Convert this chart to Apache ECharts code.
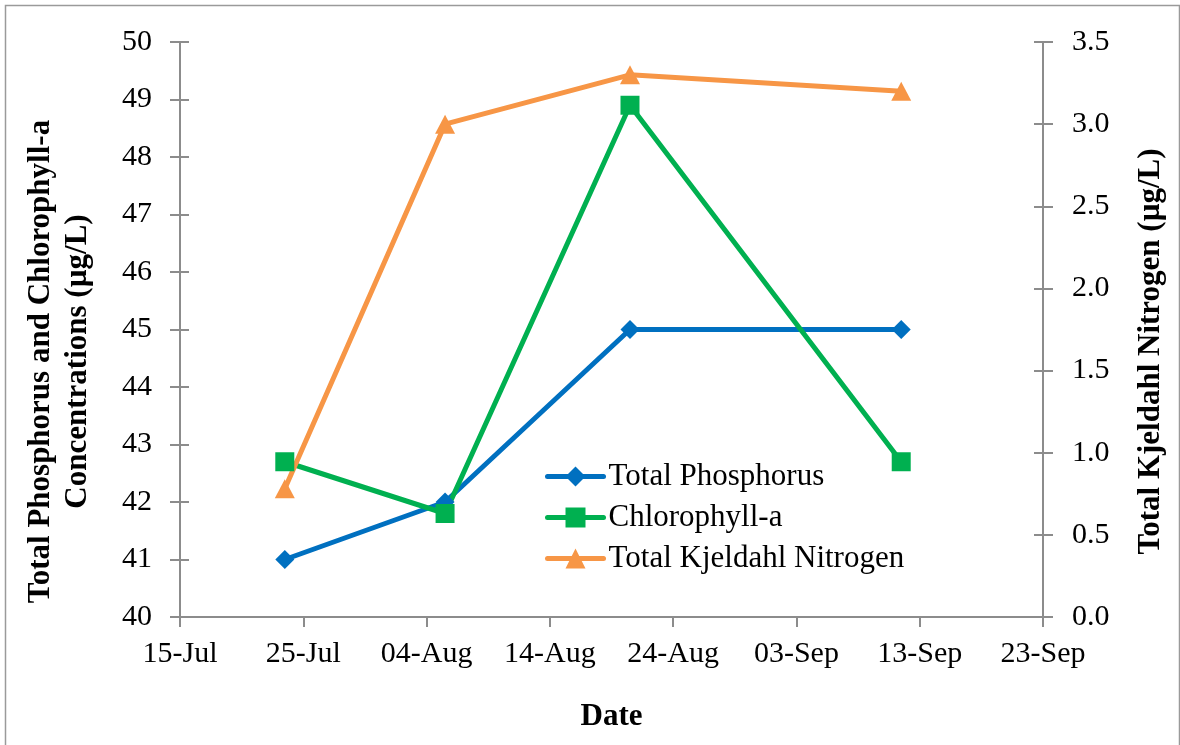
<!DOCTYPE html>
<html>
<head>
<meta charset="utf-8">
<script src="https://cdn.jsdelivr.net/npm/echarts@6/dist/echarts.min.js"></script>
<style>
html,body{margin:0;padding:0;background:#fff;}
#chart{width:1180px;height:745px;}
</style>
</head>
<body>
<div id="chart"></div>
<script>
// ---- data ----
const sampleDates = ['2012-07-23', '2012-08-05', '2012-08-20', '2012-09-11'];
const totalPhosphorus = [41, 42, 45, 45];
const chlorophyllA = [42.7, 41.8, 48.9, 42.7];
const totalKjeldahlNitrogen = [0.78, 3.0, 3.3, 3.2];
const seriesNames = ['Total Phosphorus', 'Chlorophyll-a', 'Total Kjeldahl Nitrogen'];
const xAxisStart = '2012-07-15';
const xAxisEnd = '2012-09-23';
const xTickDays = 10;
const monthNames = ['Jan','Feb','Mar','Apr','May','Jun','Jul','Aug','Sep','Oct','Nov','Dec'];
const leftAxisTitle = 'Total Phosphorus and Chlorophyll-a\nConcentrations (µg/L)';
const rightAxisTitle = 'Total Kjeldahl Nitrogen (µg/L)';
const xAxisTitle = 'Date';

// ---- helpers ----
const DAY = 86400000;
const toMs = d => Date.parse(d + 'T00:00:00Z');
// Excel date axis places each daily point in the middle of its day
const pts = vals => sampleDates.map((d, i) => [toMs(d) + DAY / 2, vals[i]]);
const fmtDate = v => {
  const d = new Date(v);
  const dd = String(d.getUTCDate()).padStart(2, '0');
  return dd + '-' + monthNames[d.getUTCMonth()];
};

const FONT = "'Liberation Serif', 'Times New Roman', serif";
const AXIS_COLOR = '#8c8c8c';
const BLUE = '#0070C0', GREEN = '#00B050', ORANGE = '#F79646';

const chart = echarts.init(document.getElementById('chart'), null, {renderer: 'canvas'});

const baseY = (min, max, interval) => ({
  type: 'value', min: min, max: max, interval: interval,
  splitLine: {show: false},
  axisLine: {show: true, lineStyle: {color: AXIS_COLOR, width: 2}},
});

chart.setOption({
  animation: false,
  backgroundColor: '#fff',
  textStyle: {fontFamily: FONT},
  grid: {left: 180, right: 137, top: 42, bottom: 128, containLabel: false},
  graphic: [{
    type: 'rect', left: 3, top: 3, z: -10,
    shape: {x: 0, y: 0, width: 1174, height: 760},
    style: {fill: 'none', stroke: '#9a9a9a', lineWidth: 1.5}
  }],
  legend: {
    orient: 'vertical', left: 545, top: 461, padding: 0,
    itemWidth: 56, itemHeight: 25, itemGap: 10,
    lineStyle: {width: 5, cap: 'round'},
    textStyle: {fontFamily: FONT, fontSize: 31, color: '#000'},
    data: seriesNames
  },
  xAxis: {
    type: 'value',
    min: toMs(xAxisStart), max: toMs(xAxisEnd), interval: xTickDays * DAY,
    name: xAxisTitle, nameLocation: 'middle', nameGap: 84,
    nameTextStyle: {fontFamily: FONT, fontSize: 31, fontWeight: 'bold', color: '#000'},
    splitLine: {show: false},
    axisLine: {show: true, onZero: false, lineStyle: {color: AXIS_COLOR, width: 2}},
    axisTick: {show: true, inside: false, length: 10, lineStyle: {color: AXIS_COLOR, width: 2}},
    axisLabel: {formatter: fmtDate, fontFamily: FONT, fontSize: 30, color: '#000', margin: 22}
  },
  yAxis: [
    Object.assign(baseY(40, 50, 1), {
      position: 'left',
      name: leftAxisTitle, nameLocation: 'middle', nameGap: 84,
      nameTextStyle: {fontFamily: FONT, fontSize: 31, fontWeight: 'bold', color: '#000',
                      lineHeight: 37, align: 'center', padding: [0, 64, 0, 0]},
      axisTick: {show: true, length: 10, lineStyle: {color: AXIS_COLOR, width: 2}},
      axisLabel: {fontFamily: FONT, fontSize: 30, color: '#000', margin: 28}
    }),
    Object.assign(baseY(0, 3.5, 0.5), {
      position: 'right',
      name: rightAxisTitle, nameLocation: 'middle', nameGap: 92,
      nameTextStyle: {fontFamily: FONT, fontSize: 31, fontWeight: 'bold', color: '#000',
                      padding: [0, 44, 0, 0]},
      axisTick: {show: true, length: 10, lineStyle: {color: AXIS_COLOR, width: 2}},
      axisLabel: {fontFamily: FONT, fontSize: 30, color: '#000', margin: 29,
                  formatter: v => v.toFixed(1)}
    }),
    // inner halves of the crossing tick marks
    Object.assign(baseY(40, 50, 1), {
      position: 'left',
      axisTick: {show: true, inside: true, length: 9, lineStyle: {color: AXIS_COLOR, width: 2}},
      axisLabel: {show: false}
    }),
    Object.assign(baseY(0, 3.5, 0.5), {
      position: 'right',
      axisTick: {show: true, inside: true, length: 9, lineStyle: {color: AXIS_COLOR, width: 2}},
      axisLabel: {show: false}
    })
  ],
  series: [
    {
      name: seriesNames[0], type: 'line', yAxisIndex: 0,
      data: pts(totalPhosphorus),
      symbol: 'diamond', symbolSize: 19,
      lineStyle: {color: BLUE, width: 5},
      itemStyle: {color: BLUE}
    },
    {
      name: seriesNames[1], type: 'line', yAxisIndex: 0,
      data: pts(chlorophyllA),
      symbol: 'rect', symbolSize: 19,
      lineStyle: {color: GREEN, width: 5},
      itemStyle: {color: GREEN}
    },
    {
      name: seriesNames[2], type: 'line', yAxisIndex: 1,
      data: pts(totalKjeldahlNitrogen),
      symbol: 'triangle', symbolSize: [20, 19],
      lineStyle: {color: ORANGE, width: 5},
      itemStyle: {color: ORANGE}
    }
  ]
});
</script>
</body>
</html>
